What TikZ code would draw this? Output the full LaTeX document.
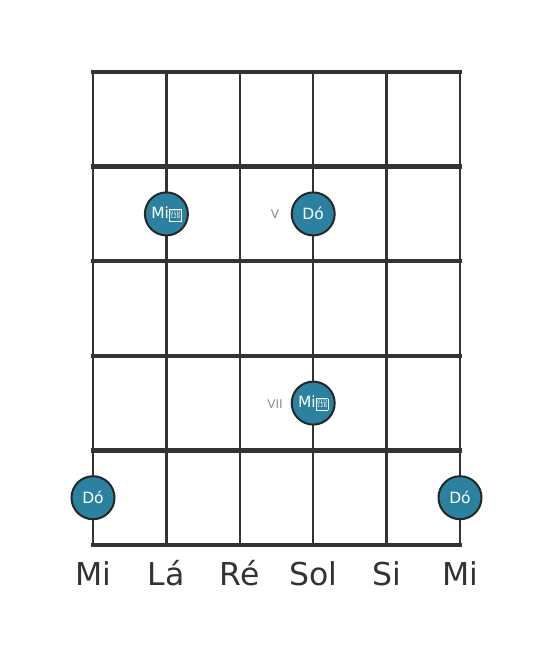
\documentclass[tikz,border=0pt]{standalone}
\usepackage{fontspec}
\setmainfont{DejaVu Sans}
\definecolor{notecol}{RGB}{42,130,160}
\newcommand{\tofubox}{\fboxsep=0.6pt\fboxrule=0.5pt\fcolorbox{white}{notecol}{\fontsize{5}{5.4}\selectfont\begin{tabular}[b]{@{}c@{}}01D\\[-1pt]12B\end{tabular}}}
\begin{document}
\begin{tikzpicture}[x=1pt,y=-1pt,
  fret/.style={line width=4.5pt,color=black!80},
  strg/.style={line width=2.4pt,color=black!80},
  note/.style={circle,draw=black!85,line width=2pt,fill=notecol,minimum size=43pt,inner sep=0pt,text=white,font=\fontsize{15.5}{15.5}\selectfont},
  slabel/.style={text=black!80,font=\fontsize{31.5}{32}\selectfont,anchor=base},
  fretnum/.style={text=black!45,font=\fontsize{12}{12}\selectfont}
]
\useasboundingbox (0,0) rectangle (553,656);
\fill[white] (0,0) rectangle (553,656);
% strings
\foreach \i/\x in {1/93,2/166.4,3/239.8,4/313.2,5/386.6,6/460}{
  \coordinate (st\i) at (\x,72);
  \coordinate (sb\i) at (\x,545);
  \draw[strg] (st\i) -- (sb\i);
}
% frets
\foreach \j/\y in {0/72,1/166.6,2/261.2,3/355.8,4/450.4,5/545}{
  \coordinate (fl\j) at (93,\y);
  \coordinate (fr\j) at (460,\y);
  \draw[fret,line cap=rect] (fl\j) -- (fr\j);
}
% notes
\node[note] (n1) at (166.4,213.9) {Mi\hspace{0.2pt}\tofubox};
\node[note] (n2) at (313.2,213.9) {Dó};
\node[note] (n3) at (313.2,403.1) {Mi\hspace{0.2pt}\tofubox};
\node[note] (n4) at (93,497.7) {Dó};
\node[note] (n5) at (460,497.7) {Dó};
% fret numbers
\node[fretnum] (v5) at (275,214.5) {V};
\node[fretnum] (v7) at (275,403.8) {VII};
% string labels
\node[slabel] (l1) at (93,585) {Mi};
\node[slabel] (l2) at (166.4,585) {Lá};
\node[slabel] (l3) at (239.8,585) {Ré};
\node[slabel] (l4) at (313.2,585) {Sol};
\node[slabel] (l5) at (386.6,585) {Si};
\node[slabel] (l6) at (460,585) {Mi};
\end{tikzpicture}
\end{document}
